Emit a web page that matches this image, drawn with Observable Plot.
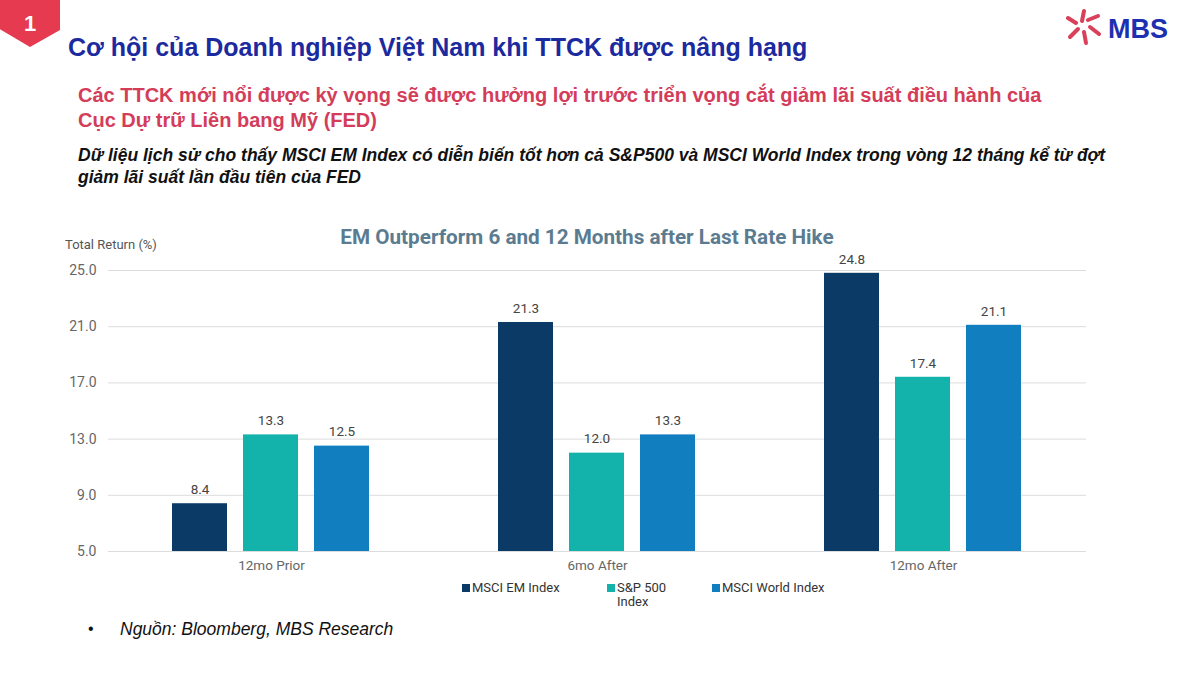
<!DOCTYPE html>
<html>
<head>
<meta charset="utf-8">
<script src="https://cdn.jsdelivr.net/npm/d3@7"></script>
<script src="https://cdn.jsdelivr.net/npm/@observablehq/plot@0.6"></script>
<style>
  html, body { margin: 0; padding: 0; background: #fff; }
  body { width: 1200px; height: 675px; position: relative; overflow: hidden; font-family: "Liberation Sans", Arial, sans-serif; }
  .abs { position: absolute; white-space: nowrap; }
  #badge { left: 0; top: 0; width: 60px; height: 47px; background: #e63a50;
           clip-path: polygon(0 0, 100% 0, 100% 64%, 50% 100%, 0 62%); }
  #badgeNum { left: 0; top: 11px; width: 60px; text-align: center; color: #fff; font-weight: bold; font-size: 22px; }
  #title { left: 68px; top: 33px; font-size: 25px; font-weight: bold; color: #1b2a9e; }
  #sub { left: 78px; top: 83px; font-size: 20px; font-weight: bold; color: #d43d5a; line-height: 25px; }
  #note { left: 78px; top: 144px; font-size: 17.5px; font-weight: bold; font-style: italic; color: #111; line-height: 22px; }
  #ctitle { left: 0; width: 1174px; text-align: center; top: 225px; font-family: Roboto, sans-serif; font-size: 20.7px; font-weight: bold; color: #5b7c90; }
  #ylab { left: 65px; top: 237px; font-family: Roboto, sans-serif; font-size: 13px; color: #555; }
  #chart { left: 0; top: 250px; }
  .leg { position: absolute; top: 581px; font-family: Roboto, sans-serif; font-size: 13px; color: #333; line-height: 14px; }
  .sw { position: absolute; left: -10px; top: 3px; width: 8px; height: 8px; }
  #foot { left: 120px; top: 619px; font-size: 17.5px; font-style: italic; color: #111; }
  #bullet { left: 88px; top: 620px; font-size: 16px; color: #111; }
  #logo { left: 1066px; top: 8px; }
</style>
</head>
<body>
<div id="badge" class="abs"></div>
<div id="badgeNum" class="abs">1</div>
<div id="title" class="abs">Cơ hội của Doanh nghiệp Việt Nam khi TTCK được nâng hạng</div>
<div id="logo" class="abs">
  <svg width="125" height="40" viewBox="0 0 125 40">
    <g stroke="#d9405a" stroke-width="4" stroke-linecap="round" fill="none">
      <line x1="18" y1="3" x2="16" y2="13"/>
      <line x1="22" y1="12" x2="32" y2="8"/>
      <line x1="24" y1="19" x2="33" y2="26"/>
      <line x1="18" y1="24" x2="20" y2="35"/>
      <line x1="12" y1="21" x2="4" y2="29"/>
      <line x1="10" y1="15" x2="2" y2="10"/>
    </g>
    <text x="42" y="30" font-family="Liberation Sans, Arial" font-weight="bold" font-size="27" fill="#1c30b0">MBS</text>
  </svg>
</div>
<div id="sub" class="abs">Các TTCK mới nổi được kỳ vọng sẽ được hưởng lợi trước triển vọng cắt giảm lãi suất điều hành của<br>Cục Dự trữ Liên bang Mỹ (FED)</div>
<div id="note" class="abs">Dữ liệu lịch sử cho thấy MSCI EM Index có diễn biến tốt hơn cả S&amp;P500 và MSCI World Index trong vòng 12 tháng kể từ đợt<br>giảm lãi suất lần đầu tiên của FED</div>
<div id="ctitle" class="abs">EM Outperform 6 and 12 Months after Last Rate Hike</div>
<div id="ylab" class="abs">Total Return (%)</div>
<div id="chart" class="abs"></div>
<div id="legend"></div>
<div id="bullet" class="abs">•</div>
<div id="foot" class="abs">Nguồn: Bloomberg, MBS Research</div>
<script>
const periods = ["12mo Prior", "6mo After", "12mo After"];
const series = ["MSCI EM Index", "S&P 500 Index", "MSCI World Index"];
const emValues = [8.4, 21.3, 24.8];
const spValues = [13.3, 12.0, 17.4];
const worldValues = [12.5, 13.3, 21.1];
const colors = ["#0b3a66", "#13b2aa", "#117ec0"];
const yTicks = [5, 9, 13, 17, 21, 25];

const rows = [];
periods.forEach((p, i) => {
  rows.push({period: p, series: series[0], value: emValues[i]});
  rows.push({period: p, series: series[1], value: spValues[i]});
  rows.push({period: p, series: series[2], value: worldValues[i]});
});

const chart = Plot.plot({
  width: 1200,
  height: 331,
  marginLeft: 108,
  marginRight: 114,
  marginTop: 20,
  marginBottom: 30,
  style: {fontFamily: "Roboto, sans-serif", background: "transparent"},
  fx: {domain: periods, padding: 0, axis: "bottom", label: null, tickSize: 0, tickPadding: 9},
  x: {domain: series, paddingInner: 0.222, paddingOuter: 0.875, axis: null},
  y: {domain: [5, 25], axis: null},
  color: {domain: series, range: colors},
  marks: [
    Plot.ruleY(yTicks, {stroke: "#dcdcdc", strokeWidth: 1}),
    Plot.barY(rows, {fx: "period", x: "series", y1: 5, y2: "value", fill: "series"}),
    Plot.text(rows, {fx: "period", x: "series", y: "value", text: d => d.value.toFixed(1), dy: -14, fill: "#444", fontSize: 13.5}),
    Plot.axisY(yTicks, {anchor: "left", facetAnchor: "left", tickSize: 0, tickPadding: 12, tickFormat: d => d.toFixed(1), fontSize: 14, color: "#666", label: null})
  ]
});
chart.querySelectorAll('[aria-label="fx-axis tick label"] text, [aria-label="fx-axis tick label"]').forEach(el => { el.setAttribute("fill", "#666"); el.setAttribute("font-size", "13.5"); });
document.getElementById("chart").appendChild(chart);

const legendX = [472, 617, 722];
const legendLabels = ["MSCI EM Index", "S&P 500<br>Index", "MSCI World Index"];
const leg = document.getElementById("legend");
series.forEach((s, i) => {
  const d = document.createElement("div");
  d.className = "leg";
  d.style.left = legendX[i] + "px";
  d.innerHTML = `<span class="sw" style="background:${colors[i]}"></span>${legendLabels[i]}`;
  leg.appendChild(d);
});
</script>
</body>
</html>
